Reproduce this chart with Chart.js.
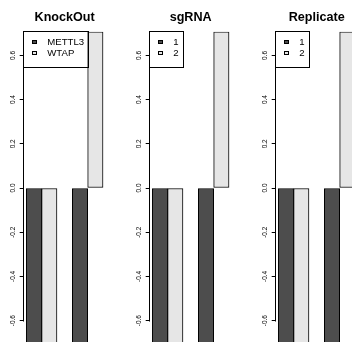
<!DOCTYPE html>
<html><head><meta charset="utf-8">
<script src="https://cdn.jsdelivr.net/npm/chart.js@4/dist/chart.umd.min.js"></script>
<style>
html,body{margin:0;padding:0;background:#fff;overflow:hidden;width:352px;height:342px}
.panel{position:absolute;top:0;width:126px;height:350px}
canvas{display:block}
</style></head><body>
<div class="panel" style="left:0px"><canvas id="c0" width="126" height="350"></canvas></div>
<div class="panel" style="left:126px"><canvas id="c1" width="126" height="350"></canvas></div>
<div class="panel" style="left:252px"><canvas id="c2" width="126" height="350"></canvas></div>
<script>
// ---- data ----
const panelTitles = ['KnockOut', 'sgRNA', 'Replicate'];
const knockOutSeries = ['METTL3', 'WTAP'];
const sgRNASeries = ['1', '2'];
const replicateSeries = ['1', '2'];
const knockOutMETTL3 = [-0.707, -0.707];
const knockOutWTAP   = [-0.707,  0.707];
const sgRNA1 = [-0.707, -0.707];
const sgRNA2 = [-0.707,  0.707];
const replicate1 = [-0.707, -0.707];
const replicate2 = [-0.707,  0.707];
const yTicks = [-0.6, -0.4, -0.2, 0.0, 0.2, 0.4, 0.6];
const yLimits = [-0.707, 0.707];

// ---- style ----
const seriesColors = ['#4D4D4D', '#E6E6E6'];
const FONT = "'Liberation Sans', Arial, Helvetica, sans-serif";
Chart.defaults.font.family = FONT;

function swatch(color) {
  const c = document.createElement('canvas');
  c.width = 5; c.height = 4;
  const g = c.getContext('2d');
  g.fillStyle = color; g.fillRect(0, 0, 5, 4);
  g.strokeStyle = '#000'; g.lineWidth = 1; g.strokeRect(0.5, 0.5, 4, 3);
  return c;
}

const rStyle = {
  id: 'rStyle',
  afterLayout(chart) {
    const ca = chart.chartArea, lg = chart.legend;
    lg.left = ca.left + 1.9; lg.top = ca.top + 4.08;
    lg.right = ca.right; lg.bottom = ca.bottom;
  },
  afterDatasetsDraw(chart) {
    const ctx = chart.ctx, ys = chart.scales.y, ca = chart.chartArea;
    ctx.save();
    ctx.strokeStyle = '#000'; ctx.lineWidth = 1;
    const ax = Math.floor(ca.left) + 0.5;
    const y0 = Math.round(ys.getPixelForValue(yTicks[0])) + 0.5;
    const y1 = Math.round(ys.getPixelForValue(yTicks[yTicks.length - 1])) - 0.5;
    ctx.beginPath(); ctx.moveTo(ax, y0); ctx.lineTo(ax, y1); ctx.stroke();
    // legend frame
    const hb = chart.legend.legendHitBoxes;
    if (hb && hb.length) {
      const right = Math.max(...hb.map(h => h.left + h.width)) + 4;
      const last = hb[hb.length - 1];
      const bottom = last.top + last.height / 2 + 13.8;
      const t = Math.floor(ca.top) + 0.5;
      const r = Math.round(right) + 0.5, b = Math.round(bottom) + 0.5;
      ctx.strokeRect(ax, t, r - ax, b - t);
    }
    ctx.restore();
  }
};

function makeChart(id, title, labels, seriesValues) {
  const nS = seriesValues.length, nG = seriesValues[0].length;
  // R barplot(beside=TRUE): one bar-width space before each group, bars of width 1
  const pos = (g, s) => 1 + g * (nS + 1) + s + 0.5;
  const xLo = 1, xHi = 1 + (nG - 1) * (nS + 1) + nS;
  const ext = 0.04 * (xHi - xLo);
  const datasets = seriesValues.map((vals, s) => ({
    label: labels[s],
    data: vals.map((v, g) => ({x: pos(g, s), y: v})),
    backgroundColor: seriesColors[s],
    borderColor: '#000',
    borderWidth: 1,
    borderSkipped: false,
    grouped: false,
    categoryPercentage: 1,
    barPercentage: 1
  }));
  return new Chart(document.getElementById(id), {
    type: 'bar',
    data: {datasets},
    plugins: [rStyle],
    options: {
      responsive: false, animation: false, devicePixelRatio: 1, events: [],
      layout: {padding: {left: 0, right: 19.9, top: 0, bottom: 5.7}},
      scales: {
        x: {type: 'linear', min: xLo - ext, max: xHi + ext, display: false,
            offset: false, bounds: 'data', grid: {offset: false},
            ticks: {stepSize: 1, includeBounds: false}},
        y: {min: yLimits[0], max: yLimits[1],
            afterBuildTicks: s => { s.ticks = yTicks.map(v => ({value: v})); },
            afterFit: s => { s.width = 23.2; },
            border: {display: false},
            grid: {display: true, drawOnChartArea: false, drawTicks: true, tickLength: 3.5, color: '#000', lineWidth: 1},
            ticks: {minRotation: 90, maxRotation: 90, crossAlign: 'center', padding: 1.1,
                    color: '#000', font: {size: 6.5},
                    callback: v => Number(v).toFixed(1)}}
      },
      plugins: {
        tooltip: {enabled: false},
        title: {display: true, text: title, fullSize: false, color: '#000',
                font: {size: 12.6, weight: 'bold'}, padding: {top: 9.6, bottom: 7.0}},
        legend: {
          display: true, position: 'chartArea', align: 'start',
          labels: {
            color: '#000', font: {size: 9.6}, padding: 1.4,
            usePointStyle: true, pointStyleWidth: 16, boxHeight: 4,
            generateLabels(chart) {
              const items = Chart.defaults.plugins.legend.labels.generateLabels(chart);
              return items.map((it, i) => Object.assign(it, {pointStyle: swatch(seriesColors[i])}));
            }
          }
        }
      }
    }
  });
}

makeChart('c0', panelTitles[0], knockOutSeries, [knockOutMETTL3, knockOutWTAP]);
makeChart('c1', panelTitles[1], sgRNASeries, [sgRNA1, sgRNA2]);
makeChart('c2', panelTitles[2], replicateSeries, [replicate1, replicate2]);
</script>
</body></html>
